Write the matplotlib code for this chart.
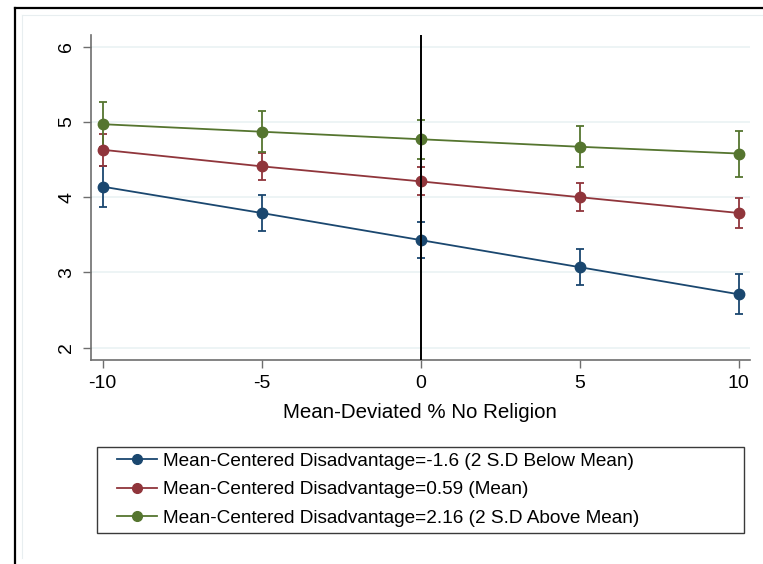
import matplotlib
matplotlib.use("Agg")
import matplotlib.pyplot as plt
from matplotlib.lines import Line2D
from matplotlib.patches import Rectangle

plt.rcParams['font.family'] = ['Liberation Sans', 'DejaVu Sans']

# Predicted values at each level of % No Religion
x_vals = [-10, -5, 0, 5, 10]
low_est = [4.14, 3.79, 3.43, 3.07, 2.71]
low_ci = [0.27, 0.24, 0.235, 0.24, 0.265]
mid_est = [4.63, 4.41, 4.21, 4.00, 3.79]
mid_ci = [0.21, 0.18, 0.185, 0.185, 0.195]
high_est = [4.97, 4.87, 4.77, 4.67, 4.58]
high_ci = [0.30, 0.27, 0.26, 0.275, 0.305]

labels = [
    "Mean-Centered Disadvantage=-1.6 (2 S.D Below Mean)",
    "Mean-Centered Disadvantage=0.59 (Mean)",
    "Mean-Centered Disadvantage=2.16 (2 S.D Above Mean)",
]
colors = ["#1a476f", "#90353b", "#55752f"]
y_ticks = [2, 3, 4, 5, 6]
x_ticks = [-10, -5, 0, 5, 10]

W, H = 763, 564
fig = plt.figure(figsize=(W / 100, H / 100), dpi=100)


def fx(px):
    return px / W


def fy(py):
    return 1 - py / H


# Outer frame and inner graph region
fig.add_artist(Line2D([fx(15), fx(15)], [0, fy(8)], transform=fig.transFigure,
                      color="black", lw=1.6))
fig.add_artist(Line2D([fx(15), 1], [fy(8), fy(8)], transform=fig.transFigure,
                      color="black", lw=1.6))
fig.add_artist(Line2D([fx(22), fx(22)], [fy(558), fy(15)], transform=fig.transFigure,
                      color="#e8eef0", lw=0.8))
fig.add_artist(Line2D([fx(22), 1], [fy(15), fy(15)], transform=fig.transFigure,
                      color="#e8eef0", lw=0.8))

ax_l, ax_r, ax_t, ax_b = 90.7, 750, 35, 360
ax = fig.add_axes([fx(ax_l), fy(ax_b), (ax_r - ax_l) / W, (ax_b - ax_t) / H])

series = [(low_est, low_ci), (mid_est, mid_ci), (high_est, high_ci)]
for (est, ci), c, lab in zip(series, colors, labels):
    ax.errorbar(x_vals, est, yerr=ci, color=c, lw=1.3, marker="o", ms=7.5,
                capsize=3, capthick=1.3, elinewidth=1.3, label=lab, zorder=3)

ax.axvline(0, color="black", lw=1.4, zorder=4)

ax.set_xlim(-10.377, 10.35)
ax.set_ylim(1.837, 6.155)
ax.set_xticks(x_ticks)
ax.set_yticks(y_ticks)
ax.set_xticklabels([str(v) for v in x_ticks])
ax.set_yticklabels([str(v) for v in y_ticks], rotation=90, va="center")
ax.grid(axis="y", color="#eaf2f3", lw=1.2, zorder=0)
ax.set_axisbelow(True)
for s in ["top", "right"]:
    ax.spines[s].set_visible(False)
for s in ["left", "bottom"]:
    ax.spines[s].set_color("#6e6e6e")
    ax.spines[s].set_linewidth(1.2)
ax.tick_params(axis="both", direction="out", length=6, width=1.0, color="#6e6e6e",
               labelsize=14, pad=5)
ax.set_xlabel("Mean-Deviated % No Religion", fontsize=14.8, labelpad=8)

# Legend box with entries
leg_l, leg_r, leg_t, leg_b = 97, 744, 446.7, 532.7
fig.add_artist(Rectangle((fx(leg_l), fy(leg_b)), (leg_r - leg_l) / W, (leg_b - leg_t) / H,
                         transform=fig.transFigure, fill=False, edgecolor="#3a3a3a", lw=1.0))
handles = [Line2D([], [], color=c, lw=1.3, marker="o", ms=7) for c in colors]
fig.legend(handles, labels, loc="center left",
           bbox_to_anchor=(fx(117), fy((leg_t + leg_b) / 2)),
           fontsize=13.7, frameon=False,
           handlelength=2.1, handletextpad=0.32, labelspacing=0.58, borderpad=0,
           borderaxespad=0)

fig.savefig("out.png", dpi=100)
